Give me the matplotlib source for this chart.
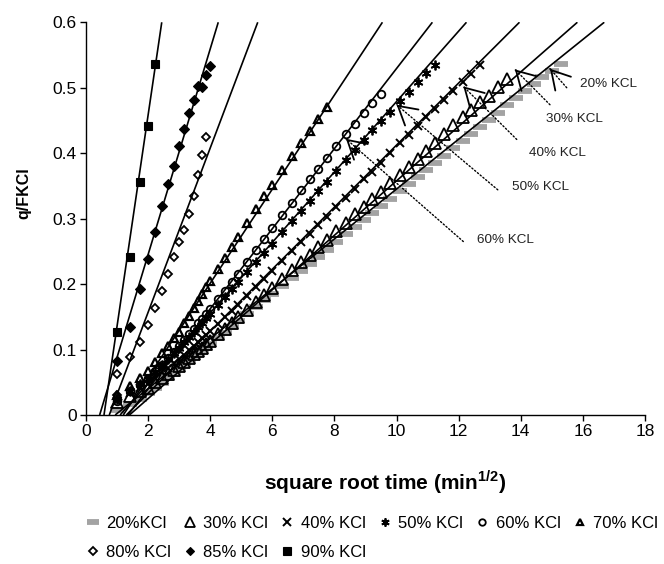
import numpy as np
import matplotlib
matplotlib.use("Agg")
import matplotlib.pyplot as plt

plt.rcParams['font.family'] = ['Liberation Sans', 'DejaVu Sans']
plt.rcParams['mathtext.fontset'] = 'custom'
plt.rcParams['mathtext.rm'] = 'Liberation Sans'
plt.rcParams['mathtext.bf'] = 'Liberation Sans:bold'

# ---- sampling times (min) of the long KCl runs ----
minutes = [1, 2, 3, 4, 5, 6, 7, 8, 9, 10, 11, 12, 13, 14, 15, 16,
           18, 20, 22, 24, 27, 30, 33, 36, 40, 44, 48, 52, 56, 60,
           65, 70, 75, 80, 85, 90, 96, 102, 108, 114, 120, 126, 133,
           140, 147, 154, 161, 168, 176, 184, 192, 200, 208, 216, 225, 234]

q_20 = [0.008, 0.017, 0.025, 0.033, 0.042, 0.049, 0.057, 0.063, 0.070, 0.076,
        0.082, 0.088, 0.093, 0.098, 0.103, 0.108, 0.117, 0.126, 0.135, 0.143,
        0.154, 0.165, 0.175, 0.185, 0.197, 0.209, 0.220, 0.231, 0.241, 0.252,
        0.264, 0.276, 0.287, 0.298, 0.308, 0.319, 0.330, 0.342, 0.353, 0.364,
        0.374, 0.385, 0.396, 0.408, 0.419, 0.430, 0.440, 0.451, 0.462, 0.474,
        0.485, 0.495, 0.506, 0.516, 0.526, 0.536]
q_30 = [0.020, 0.029, 0.036, 0.042, 0.050, 0.057, 0.063, 0.069, 0.075, 0.081,
        0.087, 0.093, 0.098, 0.103, 0.108, 0.113, 0.123, 0.132, 0.141, 0.149,
        0.161, 0.173, 0.184, 0.194, 0.208, 0.221, 0.233, 0.245, 0.256, 0.267,
        0.281, 0.294, 0.307, 0.318, 0.330, 0.341, 0.354, 0.367, 0.379, 0.391,
        0.403, 0.415, 0.430, 0.443, 0.455, 0.466, 0.478, 0.488, 0.501, 0.513]
q_40 = [0.022, 0.033, 0.041, 0.048, 0.057, 0.065, 0.072, 0.079, 0.085, 0.092,
        0.099, 0.105, 0.111, 0.117, 0.122, 0.128, 0.139, 0.149, 0.159, 0.168,
        0.182, 0.195, 0.208, 0.220, 0.235, 0.250, 0.264, 0.277, 0.290, 0.303,
        0.318, 0.332, 0.346, 0.360, 0.372, 0.385, 0.400, 0.415, 0.428, 0.442,
        0.455, 0.468, 0.482, 0.495, 0.509, 0.521, 0.534]
q_50 = [0.025, 0.037, 0.047, 0.055, 0.066, 0.076, 0.085, 0.094, 0.102, 0.111,
        0.119, 0.127, 0.134, 0.141, 0.148, 0.155, 0.168, 0.180, 0.192, 0.203,
        0.219, 0.234, 0.248, 0.262, 0.279, 0.296, 0.312, 0.327, 0.342, 0.356,
        0.373, 0.389, 0.405, 0.420, 0.435, 0.449, 0.463, 0.479, 0.493, 0.508,
        0.522, 0.535]
q_60 = [0.022, 0.036, 0.046, 0.055, 0.067, 0.077, 0.087, 0.096, 0.105, 0.114,
        0.123, 0.131, 0.140, 0.147, 0.155, 0.162, 0.177, 0.190, 0.203, 0.216,
        0.234, 0.252, 0.269, 0.285, 0.305, 0.324, 0.343, 0.360, 0.376, 0.393,
        0.411, 0.429, 0.445, 0.461, 0.476, 0.490]
q_70 = [0.030, 0.045, 0.057, 0.067, 0.081, 0.094, 0.106, 0.117, 0.127, 0.140,
        0.152, 0.163, 0.174, 0.185, 0.195, 0.205, 0.223, 0.240, 0.257, 0.272,
        0.294, 0.314, 0.334, 0.352, 0.374, 0.395, 0.415, 0.434, 0.452, 0.470]

# ---- short, concentrated runs ----
minutes_80 = [1, 1, 2, 3, 4, 5, 6, 7, 8, 9, 10, 11, 12, 13, 14, 15]
q_80 = [0.031, 0.063, 0.089, 0.112, 0.138, 0.163, 0.190, 0.215, 0.242, 0.264,
        0.283, 0.307, 0.334, 0.366, 0.397, 0.425]
minutes_85 = [1, 2, 3, 4, 5, 6, 7, 8, 9, 10, 11, 12, 13, 14, 15, 16]
q_85 = [0.082, 0.135, 0.192, 0.239, 0.280, 0.320, 0.353, 0.381, 0.411, 0.437,
        0.462, 0.481, 0.503, 0.501, 0.519, 0.533]
minutes_90 = [1, 2, 3, 4, 5]
q_90 = [0.127, 0.241, 0.356, 0.442, 0.536]

# ---- linear fits q = slope * sqrt(t) + intercept ----
series_names = ['20%KCl', '30% KCl', '40% KCl', '50% KCl', '60% KCl',
                '70% KCl', '80% KCl', '85% KCl', '90% KCl']
fit_slope = [0.0381, 0.0416, 0.0474, 0.0538, 0.0612, 0.0719, 0.1255, 0.1571, 0.3226]
fit_intercept = [-0.0358, -0.0582, -0.0616, -0.0591, -0.0826, -0.0863, -0.0941, -0.0691, -0.1870]

# ---- callouts ----
callout_text = ['20% KCL', '30% KCL', '40% KCL', '50% KCL', '60% KCL']
callout_tip = [(14.94, 0.529), (13.81, 0.528), (12.15, 0.502), (10.0, 0.474), (8.37, 0.422)]
callout_tail = [(15.48, 0.500), (14.94, 0.474), (13.87, 0.421), (13.26, 0.344), (12.15, 0.265)]
callout_label = [(15.90, 0.506), (14.80, 0.452), (14.26, 0.400), (13.71, 0.349), (12.58, 0.268)]

fig = plt.figure(figsize=(6.64, 5.64), dpi=100)
ax = fig.add_axes([0.1295, 0.2642, 0.8419, 0.6963])

st = np.sqrt(minutes)
data = [
    (st[:len(q_20)], q_20, dict(marker='_', ms=9.5, mew=4.2, color='#a3a3a3')),
    (st[:len(q_30)], q_30, dict(marker='^', ms=8, mfc='none', mec='k', mew=1.3)),
    (st[:len(q_40)], q_40, dict(marker='x', ms=6, mec='k', mew=1.4)),
    (st[:len(q_50)], q_50, dict(marker=(6, 2, 0), ms=7, mec='k', mew=1.3)),
    (st[:len(q_60)], q_60, dict(marker='o', ms=5.5, mfc='none', mec='k', mew=1.3)),
    (st[:len(q_70)], q_70, dict(marker='^', ms=5.5, mfc='none', mec='k', mew=1.6)),
    (np.sqrt(minutes_80), q_80, dict(marker='D', ms=4.5, mfc='none', mec='k', mew=1.3)),
    (np.sqrt(minutes_85), q_85, dict(marker='D', ms=5, mfc='k', mec='k', mew=0.8)),
    (np.sqrt(minutes_90), q_90, dict(marker='s', ms=6, mfc='k', mec='k', mew=0.8)),
]

handles = []
for (x, y, style), name in zip(data, series_names):
    h, = ax.plot(x, y, ls='none', zorder=2, label=name, **style)
    handles.append(h)

y_top = 0.6
for m, b in zip(fit_slope, fit_intercept):
    x0 = -b / m
    x1 = (y_top - b) / m
    ax.plot([x0, x1], [0, y_top], color='k', lw=1.2, zorder=3, solid_capstyle='butt')

for text, tip, tail, lab in zip(callout_text, callout_tip, callout_tail, callout_label):
    ax.annotate('', xy=tip, xytext=tail,
                arrowprops=dict(arrowstyle='-', linestyle=(0, (1, 1.6)), lw=1.0,
                                color='k', shrinkA=0, shrinkB=0), zorder=4)
    hx = tip[0] + 0.02 * (tail[0] - tip[0])
    hy = tip[1] + 0.02 * (tail[1] - tip[1])
    ax.annotate('', xy=tip, xytext=(hx, hy),
                arrowprops=dict(arrowstyle='->,head_length=1.3,head_width=0.75',
                                mutation_scale=10, lw=1.3, color='k',
                                shrinkA=0, shrinkB=0), zorder=4)
    ax.text(lab[0], lab[1], text, fontsize=9.7, ha='left', va='center', color='#222222')

ax.set_xlim(0, 18)
ax.set_ylim(0, 0.6)
ax.set_xticks(np.arange(0, 19, 2))
ax.set_yticks([0, 0.1, 0.2, 0.3, 0.4, 0.5, 0.6])
ax.set_yticklabels(['0', '0.1', '0.2', '0.3', '0.4', '0.5', '0.6'])
for side in ('top', 'right'):
    ax.spines[side].set_visible(False)
for side in ('left', 'bottom'):
    ax.spines[side].set_linewidth(1.0)
ax.tick_params(direction='out', length=4.5, width=1.0, labelsize=12.5, pad=2)

ax.set_xlabel(r'square root time (min$^{\mathbf{1/2}}$)', fontsize=15, fontweight='bold')
ax.xaxis.set_label_coords(0.535, -0.135)
ax.set_ylabel('q/FKCl', fontsize=11.5, fontweight='bold')
ax.yaxis.set_label_coords(-0.097, 0.565)

# legend laid out row by row (matplotlib fills columns first)
order = [0, 6, 1, 7, 2, 8, 3, 4, 5]
fig.legend([handles[i] for i in order], [series_names[i] for i in order],
           loc='upper left', bbox_to_anchor=(86 / 664, 1 - 516 / 564),
           ncol=6, frameon=False, fontsize=12, borderpad=0, borderaxespad=0,
           handlelength=0.8, handletextpad=0.4, columnspacing=0.75,
           labelspacing=0.85, numpoints=1, markerscale=0.85)

fig.savefig('out.png', dpi=100)
